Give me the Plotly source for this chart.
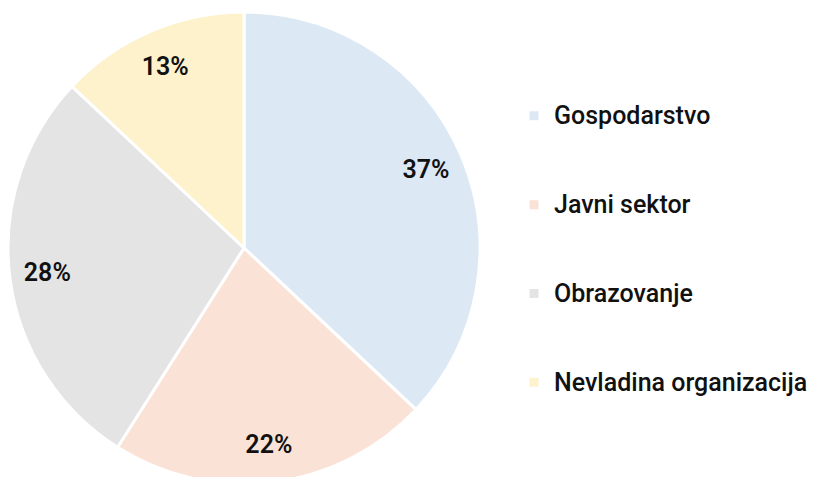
import plotly.graph_objects as go

categories = ["Gospodarstvo", "Javni sektor", "Obrazovanje", "Nevladina organizacija"]
shares = [37, 22, 28, 13]
colors = ["#dde8f5", "#fae3d6", "#e4e4e4", "#fef2cc"]

W, H = 814, 492
FONT = "Roboto"
legend_labels = ["<br><span style='font-size:25px'>" + c + "</span><br> " for c in categories]
domain = dict(x=[8 / W, 480 / W], y=[1 - 484 / H, 1 - 12 / H])

fig = go.Figure()
# coloured slices + legend
fig.add_trace(go.Pie(
    labels=legend_labels,
    values=shares,
    sort=False,
    direction="clockwise",
    rotation=0,
    marker=dict(colors=colors, line=dict(color="white", width=3)),
    textinfo="none",
    hoverinfo="skip",
    domain=domain,
))
# transparent ring carrying the percentage labels near the rim
fig.add_trace(go.Pie(
    labels=categories,
    values=shares,
    sort=False,
    direction="clockwise",
    rotation=0,
    hole=0.68,
    marker=dict(colors=["rgba(0,0,0,0)"] * len(shares), line=dict(width=0)),
    texttemplate="%{percent:.0%}",
    textposition="inside",
    insidetextorientation="horizontal",
    textfont=dict(family=FONT, size=25, color="#111111", weight=600),
    hoverinfo="skip",
    showlegend=False,
    domain=domain,
))

fig.update_layout(
    width=W, height=H,
    margin=dict(l=0, r=0, t=0, b=0),
    paper_bgcolor="white",
    plot_bgcolor="white",
    showlegend=True,
    legend=dict(
        x=514 / W, xanchor="left", y=0.493, yanchor="middle",
        font=dict(family=FONT, size=22, color="#111111", weight=500),
        itemclick=False,
        itemdoubleclick=False,
    ),
)

fig.write_html(
    "out.html",
    config={"displayModeBar": False},
    post_script="document.body.style.overflow='hidden';document.body.style.margin='0';",
)
